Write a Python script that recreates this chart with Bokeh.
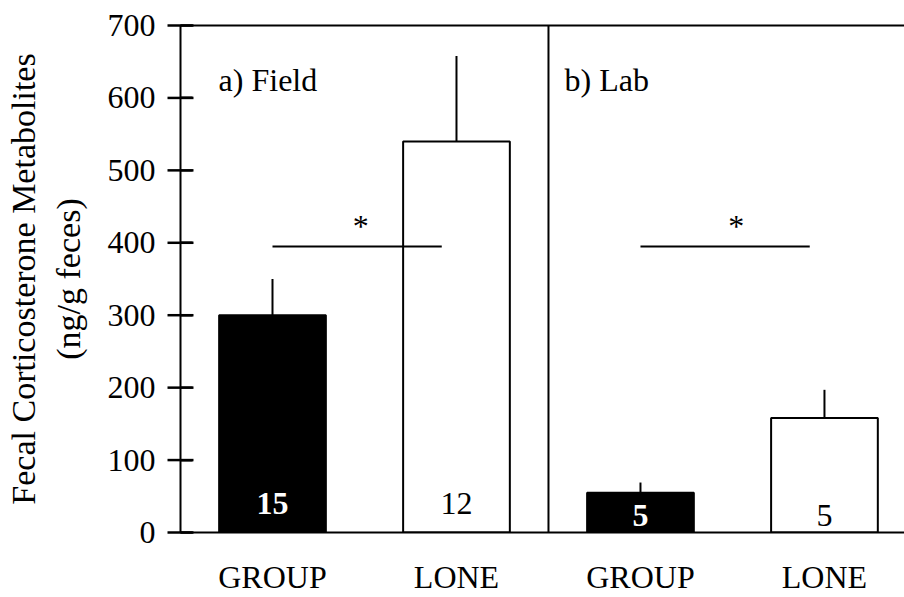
from bokeh.plotting import figure
from bokeh.models import Range1d, FixedTicker, LinearAxis, Span, Label, ColumnDataSource
from bokeh.embed import file_html
from bokeh.resources import INLINE
from bokeh.core.properties import value

# ---- data ----
categories = ["GROUP", "LONE", "GROUP", "LONE"]
conditions = ["Field", "Field", "Lab", "Lab"]
panel_titles = ["a) Field", "b) Lab"]
means = [300, 540, 55, 158]
sems = [50, 118, 14, 39]
sample_sizes = [15, 12, 5, 5]
bar_colors = ["black", "white", "black", "white"]
n_colors = ["white", "black", "white", "black"]
y_ticks = [0, 100, 200, 300, 400, 500, 600, 700]
significance = ["*", "*"]

FONT = "Liberation Serif"
X_END = 3.935

xs = [i + 0.5 for i in range(len(categories))]
tops = [m + s for m, s in zip(means, sems)]

src = ColumnDataSource(dict(x=xs, cat=categories, mean=means, top=tops,
                            n=[str(v) for v in sample_sizes],
                            color=bar_colors, ncolor=n_colors,
                            nstyle=["bold" if c == "white" else "normal" for c in n_colors],
                            ny=[40 if c == "Field" else 23 for c in conditions]))

p = figure(width=904, height=597, output_backend="svg", toolbar_location=None,
           x_range=Range1d(0, X_END), y_range=Range1d(0, 700),
           min_border_left=180, min_border_right=0, min_border_top=25,
           min_border_bottom=64)
p.grid.visible = False
p.outline_line_color = None
p.background_fill_color = "white"
p.border_fill_color = "white"

# y axis
ya = p.yaxis[0]
ya.ticker = FixedTicker(ticks=y_ticks)
ya.major_tick_in = 12
ya.major_tick_out = 0
ya.major_tick_line_color = "black"
ya.major_tick_line_width = 2
ya.minor_tick_line_color = None
ya.axis_line_width = 2
ya.major_label_text_font = FONT
ya.major_label_text_font_size = "32px"
ya.major_label_text_color = "black"
ya.major_label_standoff = 25
ya.axis_label = "Fecal Corticosterone Metabolites\n(ng/g feces)"
ya.axis_label_text_font = FONT
ya.axis_label_text_font_size = "34px"
ya.axis_label_text_font_style = "normal"
ya.axis_label_text_color = "black"
ya.axis_label_standoff = 18

# inward ticks also drawn as dash markers centred on the axis (inner half shows)
tick_src = ColumnDataSource(dict(x=[0.0] * len(y_ticks), y=[float(t) for t in y_ticks]))
ticks_r = p.scatter(x="x", y="y", source=tick_src, marker="dash", size=26,
                    line_color="black", line_width=2.5)
ticks_r.level = "overlay"

# x axis
xa = p.xaxis[0]
xa.ticker = FixedTicker(ticks=xs)
xa.major_label_overrides = {x: c for x, c in zip(xs, categories)}
xa.major_tick_line_color = None
xa.minor_tick_line_color = None
xa.axis_line_width = 2
xa.major_label_text_font = FONT
xa.major_label_text_font_size = "32px"
xa.major_label_text_color = "black"
xa.major_label_standoff = 20

# top frame line
top_axis = LinearAxis(ticker=FixedTicker(ticks=[]), axis_line_width=2,
                      major_tick_line_color=None, minor_tick_line_color=None,
                      major_label_text_font_size="0px")
p.add_layout(top_axis, "above")

# panel divider
p.add_layout(Span(location=2, dimension="height", line_color="black", line_width=2))

# bars and error bars
p.segment(x0="x", y0="mean", x1="x", y1="top", source=src, line_color="black", line_width=2)
p.vbar(x="x", top="mean", bottom=0, width=0.58, source=src,
       fill_color="color", line_color="black", line_width=2)

# sample sizes
p.text(x="x", y="ny", text="n", source=src, text_color="ncolor",
       text_font=value(FONT), text_font_size="32px", text_font_style="nstyle",
       text_align="center", text_baseline="alphabetic")

# panel titles
for i, t in enumerate(panel_titles):
    p.add_layout(Label(x=0.207 + 2 * i - (0.12 if i else 0), y=625, text=t,
                       text_font=FONT, text_font_size="32px", text_color="black",
                       text_baseline="alphabetic"))

# significance brackets
for i, s in enumerate(significance):
    x0 = 0.5 + 2 * i
    p.segment(x0=[x0], y0=[395], x1=[x0 + 0.92], y1=[395], line_color="black", line_width=2)
    p.add_layout(Label(x=x0 + 0.48 + (0.04 if i else 0), y=423, text=s,
                       text_font=FONT, text_font_size="32px", text_color="black",
                       text_align="center", text_baseline="alphabetic"))

open("out.html", "w").write(file_html(p, INLINE))
